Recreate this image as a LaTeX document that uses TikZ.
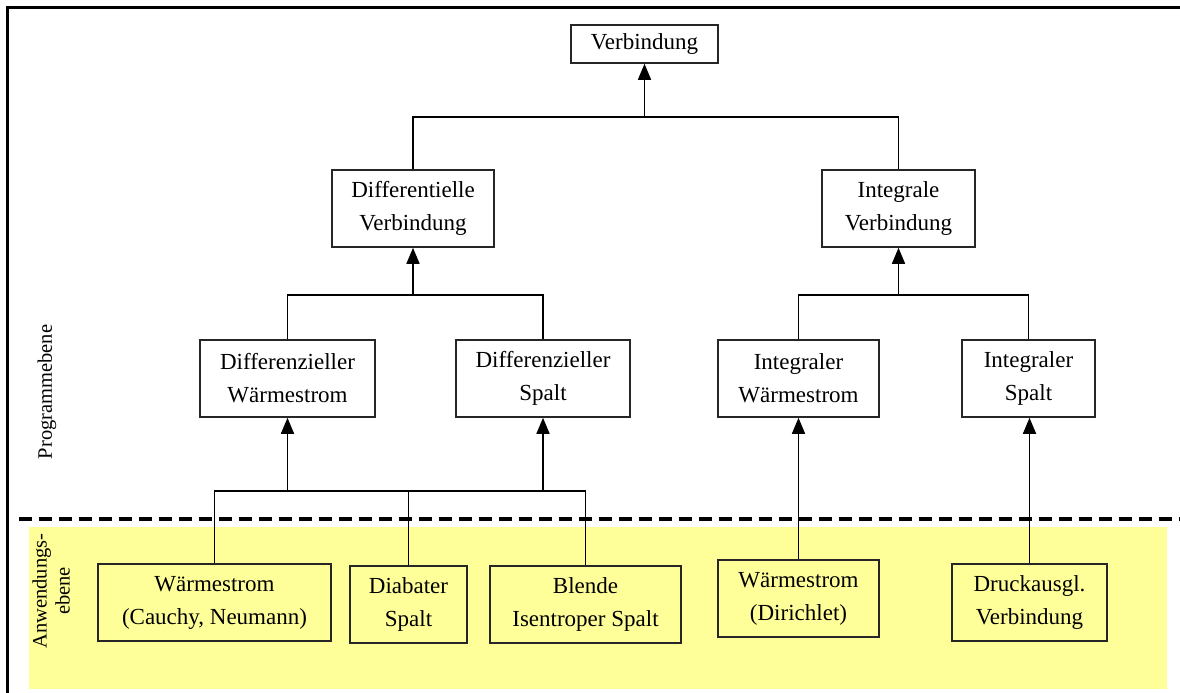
\documentclass[tikz,border=0pt]{standalone}
\usepackage{fontspec}
\setmainfont{Liberation Serif}
\usetikzlibrary{arrows.meta}
\definecolor{paleyellow}{RGB}{255,255,153}
\tikzset{
  box/.style={draw=black!85, line width=1.6pt, fill=#1, align=center, inner sep=0pt,
    font=\fontsize{23}{33}\selectfont},
  box/.default=white,
  link/.style={draw=black, line width=1.6pt},
  arr/.style={link, -{Triangle[length=16pt,width=13pt]}},
  sidelabel/.style={rotate=90, align=center, font=\fontsize{20.5}{23}\selectfont}
}
\begin{document}
\begin{tikzpicture}[x=1pt,y=-1pt]
\useasboundingbox (0,0) rectangle (1180,693);
% frame and layers
\fill[paleyellow] (29,527) rectangle (1167,689);
\draw[line width=3pt] (7,693) -- (7,8) -- (1180,8);
\draw[line width=3.2pt, dash pattern=on 13pt off 7pt] (19,519) -- (1180,519);
\node[sidelabel] (lp) at (47,392) {Programmebene};
\node[sidelabel] (la) at (51,591) {Anwendungs-\\ebene};
% program level
\node[box, minimum width=147pt, minimum height=38pt] (v) at (644.5,44) {Verbindung};
\node[box, minimum width=162pt, minimum height=77pt] (dv) at (413,208.5) {Differentielle\\Verbindung};
\node[box, minimum width=153pt, minimum height=77pt] (iv) at (898.5,208.5) {Integrale\\Verbindung};
\node[box, minimum width=175pt, minimum height=77pt] (dw) at (287.5,378.5) {Differenzieller\\Wärmestrom};
\node[box, minimum width=174pt, minimum height=77pt] (ds) at (543,378.5) {Differenzieller\\Spalt};
\node[box, minimum width=161pt, minimum height=77pt] (iw) at (798.5,378.5) {Integraler\\Wärmestrom};
\node[box, minimum width=133pt, minimum height=77pt] (is) at (1028.5,378.5) {Integraler\\Spalt};
% application level
\node[box=paleyellow, minimum width=233pt, minimum height=77pt] (b1) at (214.5,602.5) {Wärmestrom\\(Cauchy, Neumann)};
\node[box=paleyellow, minimum width=117pt, minimum height=77pt] (b2) at (408.5,604.5) {Diabater\\Spalt};
\node[box=paleyellow, minimum width=191pt, minimum height=77pt] (b3) at (585.5,604.5) {Blende\\Isentroper Spalt};
\node[box=paleyellow, minimum width=161pt, minimum height=77pt] (b4) at (798.5,598.5) {Wärmestrom\\(Dirichlet)};
\node[box=paleyellow, minimum width=155pt, minimum height=77pt] (b5) at (1029.5,602.5) {Druckausgl.\\Verbindung};
% junctions
\coordinate (j1) at (644.5,117);
\coordinate (j2) at (413,295);
\coordinate (j3) at (898.5,295);
\coordinate (j4) at (287.5,491);
\coordinate (j5) at (543,491);
% connectors
\draw[link] (dv.north) |- (j1) -| (iv.north);
\draw[arr] (j1) -- (v.south);
\draw[link] (dw.north) |- (j2) -| (ds.north);
\draw[arr] (j2) -- (dv.south);
\draw[link] (iw.north) |- (j3) -| (is.north);
\draw[arr] (j3) -- (iv.south);
\draw[link] (b1.north) |- (j4) -- (j5) -| (b3.north);
\draw[link] (b2.north) -- (b2.north |- j4);
\draw[arr] (j4) -- (dw.south);
\draw[arr] (j5) -- (ds.south);
\draw[arr] (b4.north) -- (iw.south);
\draw[arr] (b5.north) -- (b5.north |- is.south);
\end{tikzpicture}
\end{document}
